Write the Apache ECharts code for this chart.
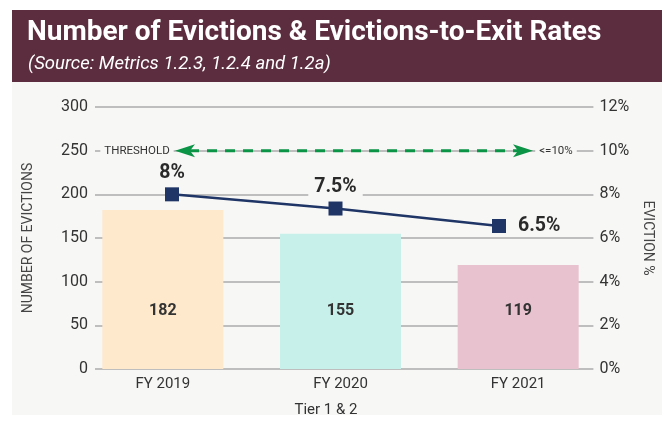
<!DOCTYPE html>
<html>
<head>
<meta charset="utf-8">
<style>
html,body{margin:0;padding:0;background:#fff;}
#c{width:662px;height:423px;}
</style>
<script src="https://cdn.jsdelivr.net/npm/echarts@6/dist/echarts.min.js"></script>
</head>
<body>
<div id="c"></div>
<script>
const categories = ['FY 2019', 'FY 2020', 'FY 2021'];
const evictions = [182, 155, 119];
const evictionRate = [8, 7.35, 6.55];
const rateLabels = ['8%', '7.5%', '6.5%'];
const thresholdRate = 10;
const thresholdStartLabel = 'THRESHOLD';
const thresholdEndLabel = '<=10%';
const titleText = 'Number of Evictions & Evictions-to-Exit Rates';
const subtitleText = '(Source: Metrics 1.2.3, 1.2.4 and 1.2a)';
const xAxisTitle = 'Tier 1 & 2';
const leftAxisTitle = 'NUMBER OF EVICTIONS';
const rightAxisTitle = 'EVICTION %';

const barColors = ['#fee9cc', '#c8f0eb', '#e8c2cf'];
const FONT = 'Roboto, "Noto Sans", sans-serif';
const PANEL = '#f7f7f5';

const chart = echarts.init(document.getElementById('c'), null, {renderer: 'canvas'});

const gTop = 107, gBottom = 54;
const option = {
  backgroundColor: '#ffffff',
  animation: false,
  textStyle: {fontFamily: FONT},
  grid: [
    {left: 74, right: 55, top: gTop, bottom: gBottom},
    {left: 95, right: 60, top: gTop, bottom: gBottom},
    {left: 172, right: 163, top: gTop, bottom: gBottom}
  ],
  xAxis: [
    {gridIndex: 0, type: 'category', data: categories,
     axisLine: {show: false}, axisTick: {show: false},
     axisLabel: {fontSize: 15, color: '#333', margin: 8, fontFamily: FONT}},
    {gridIndex: 1, type: 'category', data: categories, show: false},
    {gridIndex: 2, type: 'category', data: categories, boundaryGap: false, show: false}
  ],
  yAxis: [
    {gridIndex: 0, type: 'value', min: 0, max: 300, show: false, splitLine: {show: false}},
    {gridIndex: 1, type: 'value', min: 0, max: 300, interval: 50, position: 'left',
     name: leftAxisTitle, nameLocation: 'middle', nameGap: 60, nameRotate: 90,
     nameTextStyle: {fontSize: 14, color: '#444', fontFamily: FONT},
     axisLine: {show: false}, axisTick: {show: false},
     axisLabel: {fontSize: 16, color: '#333', margin: 7, fontFamily: FONT},
     splitLine: {show: true, lineStyle: {color: '#ababab', width: 1.5}}},
    {gridIndex: 1, type: 'value', min: 0, max: 12, interval: 2, position: 'right',
     name: rightAxisTitle, nameLocation: 'middle', nameGap: 42, nameRotate: -90,
     nameTextStyle: {fontSize: 14, color: '#444', fontFamily: FONT},
     axisLine: {show: false}, axisTick: {show: false},
     axisLabel: {fontSize: 16, color: '#333', margin: 6, formatter: '{value}%', fontFamily: FONT},
     splitLine: {show: false}},
    {gridIndex: 2, type: 'value', min: 0, max: 12, show: false, splitLine: {show: false}}
  ],
  series: [
    {type: 'bar', xAxisIndex: 0, yAxisIndex: 0, barWidth: 121, z: 3,
     data: evictions.map((v, i) => ({value: v, itemStyle: {color: barColors[i]}})),
     label: {show: true, position: 'insideBottom', distance: 50,
       fontSize: 16, fontWeight: 'bold', color: '#333', fontFamily: FONT}},
    {type: 'line', xAxisIndex: 2, yAxisIndex: 3, z: 5,
     data: evictionRate.map((v, i) => i === 2
       ? {value: v, label: {position: 'right', distance: 6}} : v),
     symbol: 'rect', symbolSize: 14,
     lineStyle: {color: '#1f3566', width: 2.5},
     itemStyle: {color: '#1f3566'},
     label: {show: true, position: 'top', distance: 4,
       formatter: p => rateLabels[p.dataIndex],
       fontSize: 19.5, fontWeight: 'bold', color: '#2a2a2a', fontFamily: FONT,
       backgroundColor: PANEL, padding: [0, 6, 0, 6]}}
  ],
  graphic: [
    {type: 'rect', z: -10, shape: {x: 12, y: 10, width: 650, height: 72}, style: {fill: '#5b2d3e'}},
    {type: 'rect', z: -10, shape: {x: 12, y: 82, width: 650, height: 333}, style: {fill: PANEL}},
    {type: 'text', z: 10, left: 27, top: 19, style: {text: titleText, fill: '#fff',
      font: 'bold 28px ' + FONT}},
    {type: 'text', z: 10, left: 28, top: 55, style: {text: subtitleText, fill: '#fff',
      font: 'italic 18.5px ' + FONT}},
    {type: 'text', z: 10, x: 326, y: 410, style: {text: xAxisTitle, fill: '#333',
      font: '15px ' + FONT, align: 'center', verticalAlign: 'middle'}}
  ]
};

chart.setOption(option);

// threshold line at 10% on the rate axis
const ty = chart.convertToPixel({yAxisIndex: 2}, thresholdRate);
const x1 = 175, x2 = 533;
const green = '#0b9446';
chart.setOption({graphic: option.graphic.concat([
  {type: 'line', z: 20, shape: {x1: x1 + 14, y1: ty, x2: x2 - 14, y2: ty},
   style: {stroke: green, lineWidth: 3, lineDash: [10, 8]}},
  {type: 'polygon', z: 21, shape: {points: [[x1, ty], [x1 + 20, ty - 6.5], [x1 + 15, ty], [x1 + 20, ty + 6.5]]},
   style: {fill: green}},
  {type: 'polygon', z: 21, shape: {points: [[x2, ty], [x2 - 20, ty - 6.5], [x2 - 15, ty], [x2 - 20, ty + 6.5]]},
   style: {fill: green}},
  {type: 'text', z: 21, x: 137, y: ty, style: {text: thresholdStartLabel, fill: '#333',
    font: '11.5px ' + FONT, align: 'center', verticalAlign: 'middle',
    backgroundColor: PANEL, padding: [3, 4, 3, 4]}},
  {type: 'text', z: 21, x: 556, y: ty, style: {text: thresholdEndLabel, fill: '#333',
    font: '11.5px ' + FONT, align: 'center', verticalAlign: 'middle',
    backgroundColor: PANEL, padding: [3, 4, 3, 4]}}
])});
</script>
</body>
</html>
